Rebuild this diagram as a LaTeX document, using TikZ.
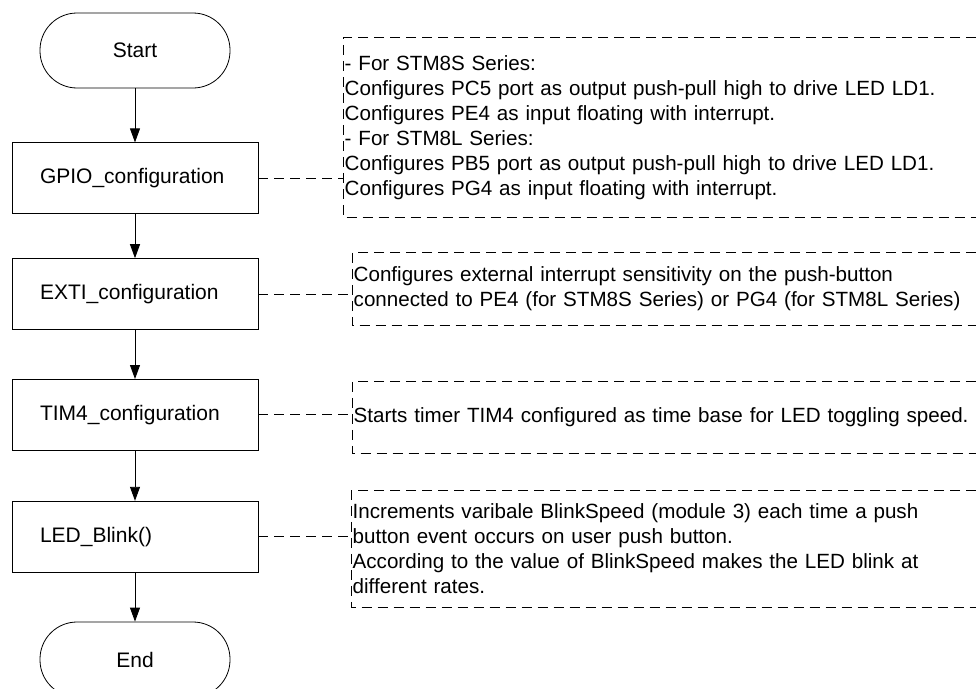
\documentclass[tikz,border=0pt]{standalone}
\usepackage{fontspec}
\setmainfont{Liberation Sans}
\usetikzlibrary{arrows.meta, positioning}

\begin{document}
\begin{tikzpicture}[
    x=1pt, y=-1pt,
    node distance=48pt,
    every node/.style={font=\fontsize{21}{25}\selectfont},
    terminal/.style={rectangle, rounded corners=37pt, draw, line width=0.8pt, minimum width=190pt, minimum height=75pt},
    box/.style={rectangle, draw, line width=0.8pt, minimum height=71pt, text width=190pt, inner xsep=28pt, align=left},
    note/.style={anchor=west, font=\fontsize{20.6}{25}\selectfont, inner xsep=1.5pt, inner ysep=0pt, text width=660pt, align=left},
    arrow/.style={-{Triangle[length=14pt, width=10pt]}, line width=0.9pt},
    dashline/.style={line width=0.9pt, dash pattern=on 10pt off 6pt},
]
\useasboundingbox (0,0) rectangle (976,688);
\coordinate (edge) at (976,0);

\node[terminal] (start) at (135,50.5) {Start};
\node[box, below=54pt of start] (gpio) {GPIO\_configuration};
\node[box, below=44pt of gpio] (exti) {EXTI\_configuration};
\node[box, below=49pt of exti] (tim) {TIM4\_configuration};
\node[box, below=50pt of tim] (led) {LED\_Blink()};
\node[terminal, below=49pt of led] (stop) {End};

\node[note, minimum height=179pt] (gpionote) at (343,127.5) {- For STM8S Series:\\
    Configures PC5 port as output push-pull high to drive LED LD1.\\
    Configures PE4 as input floating with interrupt.\\
    - For STM8L Series:\\
    Configures PB5 port as output push-pull high to drive LED LD1.\\
    Configures PG4 as input floating with interrupt.};
\node[note, minimum height=72pt] (extinote) at (352,289) {Configures external interrupt sensitivity on the push-button\\
    connected to PE4 (for STM8S Series) or PG4 (for STM8L Series)};
\node[note, minimum height=71pt] (timnote) at (352,417.5) {Starts timer TIM4 configured as time base for LED toggling speed.};
\node[note, minimum height=116pt] (lednote) at (351,549) {Increments varibale BlinkSpeed (module 3) each time a push\\
    button event occurs on user push button.\\
    According to the value of BlinkSpeed makes the LED blink at\\
    different rates.};

\draw[arrow] (start) -- (gpio);
\draw[arrow] (gpio) -- (exti);
\draw[arrow] (exti) -- (tim);
\draw[arrow] (tim) -- (led);
\draw[arrow] (led) -- (stop);

\foreach \n in {gpionote, extinote, timnote, lednote}
    \draw[dashline] (\n.north west -| edge) -- (\n.north west) -- (\n.south west) -- (\n.south west -| edge);
\foreach \a/\n in {gpio/gpionote, exti/extinote, tim/timnote, led/lednote}
    \draw[dashline] (\a.east) -- (\a.east -| \n.west);

\end{tikzpicture}
\end{document}
